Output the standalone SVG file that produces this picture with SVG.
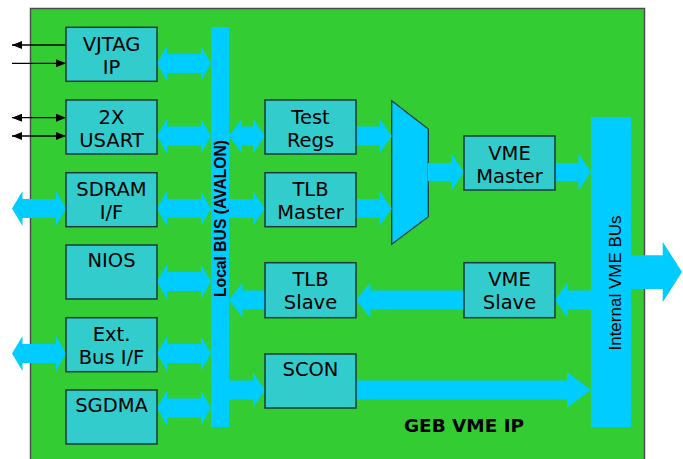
<svg xmlns="http://www.w3.org/2000/svg" width="683" height="459" viewBox="0 0 683 459">
<defs>
<style>
.box{fill:#33CCCC;stroke:#1a3a3a;stroke-width:1.5}
.lbl{font-family:"DejaVu Sans",Verdana,sans-serif;font-size:19.5px;fill:#000;text-anchor:middle}
.bus{fill:#00CCFF}
.arr{fill:#00CCFF}
.thin{stroke:#000;stroke-width:1.3;fill:none}
</style>
<marker id="ah" viewBox="0 0 10 8" refX="10" refY="4" markerWidth="10" markerHeight="8" markerUnits="userSpaceOnUse" orient="auto-start-reverse">
<path d="M0,0 L10,4 L0,8 Z" fill="#000"/>
</marker>
</defs>
<rect x="0" y="0" width="683" height="459" fill="#fff"/>
<rect x="30.5" y="8.5" width="614" height="460" fill="#33CC33" stroke="#4d4d4d" stroke-width="1.5"/>

<g id="local-bus">
<rect class="bus" x="211" y="27" width="18" height="400"/>
<text transform="translate(225.5,218.5) rotate(-90)" font-family="'Liberation Sans',Arial,sans-serif" font-weight="bold" font-size="16" text-anchor="middle" textLength="157" lengthAdjust="spacingAndGlyphs">Local BUS (AVALON)</text>
</g>
<g id="internal-vme-bus">
<rect class="bus" x="591" y="117" width="40" height="310"/>
<text transform="translate(621,283) rotate(-90)" font-family="'Liberation Sans',Arial,sans-serif" font-size="17" text-anchor="middle">Internal VME BUs</text>
</g>
<g id="mux">
<polygon points="391.7,100.7 428.3,129 428.3,216.7 391.7,244.3" fill="#00CCFF" stroke="#1a4040" stroke-width="1.3"/>
</g>

<g id="connectors">
<!-- thin external signals -->
<line class="thin" x1="66" y1="45" x2="12" y2="45" marker-end="url(#ah)"/>
<line class="thin" x1="12" y1="63.3" x2="66" y2="63.3" marker-end="url(#ah)" stroke="#333"/>
<line class="thin" x1="12" y1="117.7" x2="66" y2="117.7" marker-start="url(#ah)" marker-end="url(#ah)"/>
<line class="thin" x1="12" y1="136" x2="66" y2="136" marker-start="url(#ah)" marker-end="url(#ah)"/>
<!-- double arrows: left boxes to local bus -->
<path class="arr" d="M157,63.5 L167,46 L167,54 L201,54 L201,46 L211,63.5 L201,81 L201,73 L167,73 L167,81 Z"/>
<path class="arr" d="M157,136 L167,118.5 L167,126.5 L201,126.5 L201,118.5 L211,136 L201,153.5 L201,145.5 L167,145.5 L167,153.5 Z"/>
<path class="arr" d="M157,208.5 L167,191 L167,199 L201,199 L201,191 L211,208.5 L201,226 L201,218 L167,218 L167,226 Z"/>
<path class="arr" d="M157,281.5 L167,264 L167,272 L201,272 L201,264 L211,281.5 L201,299 L201,291 L167,291 L167,299 Z"/>
<path class="arr" d="M157,353.5 L167,336 L167,344 L201,344 L201,336 L211,353.5 L201,371 L201,363 L167,363 L167,371 Z"/>
<path class="arr" d="M157,408 L167,390.5 L167,398.5 L201,398.5 L201,390.5 L211,408 L201,425.5 L201,417.5 L167,417.5 L167,425.5 Z"/>
<!-- external double arrows -->
<path class="arr" d="M12,208.5 L22.5,191 L22.5,199 L56,199 L56,191 L66,208.5 L56,226 L56,218 L22.5,218 L22.5,226 Z"/>
<path class="arr" d="M12,353.5 L22.5,336 L22.5,344 L56,344 L56,336 L66,353.5 L56,371 L56,363 L22.5,363 L22.5,371 Z"/>
<!-- local bus to middle column -->
<path class="arr" d="M229,136 L242,118.5 L242,126.5 L253,126.5 L253,118.5 L265,136 L253,153.5 L253,145.5 L242,145.5 L242,153.5 Z"/>
<path class="arr" d="M229,199 L253,199 L253,191 L265,208.5 L253,226 L253,218 L229,218 Z"/>
<path class="arr" d="M265,290.5 L242.5,290.5 L242.5,282.5 L229,300 L242.5,317.5 L242.5,309.5 L265,309.5 Z"/>
<path class="arr" d="M229,380.5 L253,380.5 L253,372.5 L265,390 L253,407.5 L253,399.5 L229,399.5 Z"/>
<!-- to mux -->
<path class="arr" d="M356,126.5 L379.5,126.5 L379.5,118.5 L391.7,136 L379.5,153.5 L379.5,145.5 L356,145.5 Z"/>
<path class="arr" d="M356,199 L379.5,199 L379.5,191 L391.7,208.5 L379.5,226 L379.5,218 L356,218 Z"/>
<!-- mux to VME master -->
<path class="arr" d="M428,163 L451.5,163 L451.5,153.5 L464,172 L451.5,190.5 L451.5,181 L428,181 Z"/>
<!-- VME master to internal bus -->
<path class="arr" d="M555,163 L578.5,163 L578.5,153.5 L591,172 L578.5,190.5 L578.5,181 L555,181 Z"/>
<!-- internal bus to VME slave -->
<path class="arr" d="M591,290.5 L567.5,290.5 L567.5,282.5 L555,300 L567.5,317.5 L567.5,309.5 L591,309.5 Z"/>
<!-- VME slave to TLB slave -->
<path class="arr" d="M464,290.5 L370.5,290.5 L370.5,282.5 L356,300 L370.5,317.5 L370.5,309.5 L464,309.5 Z"/>
<!-- SCON to internal bus -->
<path class="arr" d="M356,380.5 L567,380.5 L567,372 L591,390 L567,407.5 L567,399.5 L356,399.5 Z"/>
<!-- internal bus out -->
<path class="arr" d="M631,255.3 L662.7,255.3 L662.7,241.7 L682,272 L662.7,302.3 L662.7,289 L631,289 Z"/>
</g>

<g id="vjtag"><rect class="box" x="66" y="27.3" width="91" height="54"/><text class="lbl" x="111.5" y="51">VJTAG</text><text class="lbl" x="111.5" y="74">IP</text></g>
<g id="usart"><rect class="box" x="66" y="100" width="91" height="54"/><text class="lbl" x="111.5" y="123.5">2X</text><text class="lbl" x="111.5" y="146.5">USART</text></g>
<g id="sdram"><rect class="box" x="66" y="172.7" width="91" height="54"/><text class="lbl" x="111.5" y="196.2">SDRAM</text><text class="lbl" x="111.5" y="219.2">I/F</text></g>
<g id="nios"><rect class="box" x="66" y="245" width="91" height="54"/><text class="lbl" x="111.5" y="267">NIOS</text></g>
<g id="extbus"><rect class="box" x="66" y="317.7" width="91" height="54"/><text class="lbl" x="111.5" y="341">Ext.</text><text class="lbl" x="111.5" y="364">Bus I/F</text></g>
<g id="sgdma"><rect class="box" x="66" y="390" width="91" height="54"/><text class="lbl" x="111.5" y="412">SGDMA</text></g>
<g id="testregs"><rect class="box" x="265" y="100" width="91" height="54"/><text class="lbl" x="310.5" y="123.5">Test</text><text class="lbl" x="310.5" y="146.5">Regs</text></g>
<g id="tlbmaster"><rect class="box" x="265" y="172.7" width="91" height="54"/><text class="lbl" x="310.5" y="196.2">TLB</text><text class="lbl" x="310.5" y="219.2">Master</text></g>
<g id="tlbslave"><rect class="box" x="265" y="262.7" width="91" height="55"/><text class="lbl" x="310.5" y="285.5">TLB</text><text class="lbl" x="310.5" y="308.5">Slave</text></g>
<g id="scon"><rect class="box" x="265" y="354" width="91" height="54"/><text class="lbl" x="310.5" y="376">SCON</text></g>
<g id="vmemaster"><rect class="box" x="464" y="136" width="91" height="54"/><text class="lbl" x="509.5" y="159.7">VME</text><text class="lbl" x="509.5" y="182.7">Master</text></g>
<g id="vmeslave"><rect class="box" x="464" y="262.7" width="91" height="55"/><text class="lbl" x="509.5" y="285.5">VME</text><text class="lbl" x="509.5" y="308.5">Slave</text></g>

<text x="464" y="431.7" font-family="'DejaVu Sans',Verdana,sans-serif" font-weight="bold" font-size="17" text-anchor="middle" textLength="120" lengthAdjust="spacingAndGlyphs">GEB VME IP</text>
</svg>
